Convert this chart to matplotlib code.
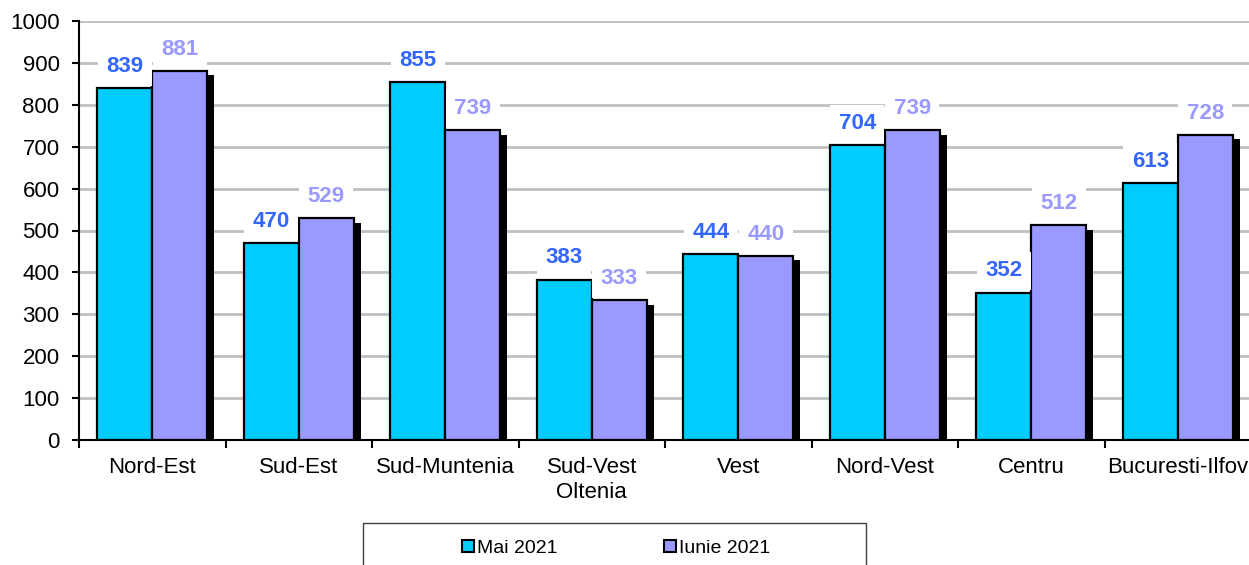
import matplotlib
matplotlib.use("Agg")
import matplotlib.pyplot as plt
import matplotlib.patheffects as pe
from matplotlib.patches import Rectangle
import numpy as np

plt.rcParams['font.family'] = ['Liberation Sans', 'DejaVu Sans']

categories = ["Nord-Est", "Sud-Est", "Sud-Muntenia", "Sud-Vest\nOltenia", "Vest",
              "Nord-Vest", "Centru", "Bucuresti-Ilfov"]
mai_2021 = [839, 470, 855, 383, 444, 704, 352, 613]
iunie_2021 = [881, 529, 739, 333, 440, 739, 512, 728]
series_names = ["Mai 2021", "Iunie 2021"]
yticks = list(range(0, 1001, 100))

W, H = 1249, 565
fig = plt.figure(figsize=(W / 100, H / 100), dpi=100)
ax = fig.add_axes([79 / W, 1 - 440 / H, (1251 - 79) / W, (440 - 21) / H])

x = np.arange(len(categories))
bw = 0.375
shadow = [pe.SimplePatchShadow(offset=(5, -3), shadow_rgbFace='black', alpha=1.0), pe.Normal()]

b1 = ax.bar(x - bw / 2, mai_2021, bw, color='#00CCFF', edgecolor='black', linewidth=1.6,
            zorder=3, label=series_names[0])
b2 = ax.bar(x + bw / 2, iunie_2021, bw, color='#9999FF', edgecolor='black', linewidth=1.6,
            zorder=4, label=series_names[1], path_effects=shadow)

for bars, vals, col in ((b1, mai_2021, '#3366FF'), (b2, iunie_2021, '#9999FF')):
    for r, v in zip(bars, vals):
        ax.annotate(f"{v}", (r.get_x() + r.get_width() / 2, v), xytext=(0, 15.5),
                    textcoords='offset points', ha='center', va='center',
                    fontsize=16, fontweight='bold', color=col, zorder=6,
                    bbox=dict(boxstyle='square,pad=0.38', fc='white', ec='none'))

ax.set_xlim(-0.5, len(categories) - 0.5)
ax.set_ylim(0, 1000)
ax.set_yticks(yticks)
ax.set_xticks(x)
ax.set_xticklabels(categories, fontsize=16, linespacing=1.3)
ax.set_xticks(np.arange(-0.5, len(categories), 1.0), minor=True)
ax.tick_params(axis='x', which='major', length=0, pad=12)
ax.tick_params(axis='x', which='minor', length=6, width=1.5, direction='out')
ax.tick_params(axis='y', labelsize=16, length=5, width=1.5, direction='out', pad=9)
ax.yaxis.grid(True, color='#C0C0C0', linewidth=2, zorder=0)
ax.set_axisbelow(True)
for s in ('top', 'right'):
    ax.spines[s].set_visible(False)
for s in ('left', 'bottom'):
    ax.spines[s].set_linewidth(1.5)
    ax.spines[s].set_zorder(5)

# legend
fig.patches.append(Rectangle((363 / W, 1 - 590 / H), (866 - 363) / W, (590 - 523) / H,
                             transform=fig.transFigure, fc='white', ec='#404040', lw=1.0))
h1 = plt.Line2D([], [], marker='s', ls='none', markersize=8, markerfacecolor='#00CCFF',
                markeredgecolor='black', markeredgewidth=1.5)
h2 = plt.Line2D([], [], marker='s', ls='none', markersize=8, markerfacecolor='#9999FF',
                markeredgecolor='black', markeredgewidth=1.5)
fig.legend([h1, h2], series_names, loc='center', ncol=2,
           bbox_to_anchor=(616 / W, 1 - 548 / H), frameon=False, fontsize=14,
           handlelength=0.6, handletextpad=0.15, columnspacing=5.5)

fig.savefig("out.png", dpi=100)
